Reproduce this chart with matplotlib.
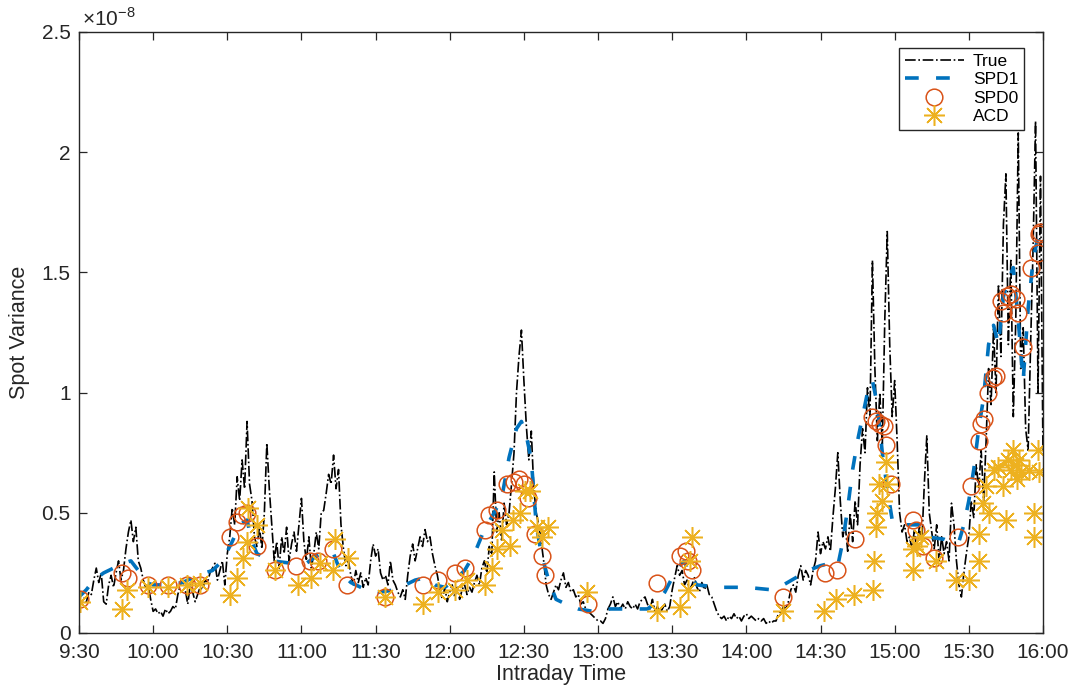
import numpy as np
import matplotlib
matplotlib.use("Agg")
import matplotlib.pyplot as plt

# 時刻は 9:30 からの経過分、値の単位は 1e-8
true_vals = [
    0.14, 0.12, 0.15, 0.13, 0.17, 0.16, 0.22, 0.27, 0.21, 0.25,
    0.13, 0.12, 0.20, 0.24, 0.19, 0.25, 0.30, 0.22, 0.26, 0.35,
    0.42, 0.47, 0.38, 0.44, 0.30, 0.27, 0.22, 0.19, 0.20, 0.14,
    0.09, 0.10, 0.08, 0.09, 0.07, 0.10, 0.08, 0.09, 0.11, 0.10,
    0.16, 0.20, 0.22, 0.18, 0.12, 0.20, 0.17, 0.13, 0.16, 0.19,
    0.18, 0.22, 0.21, 0.25, 0.27, 0.29, 0.22, 0.26, 0.30, 0.20,
    0.33, 0.40, 0.52, 0.45, 0.65, 0.55, 0.72, 0.60, 0.88, 0.62,
    0.55, 0.40, 0.36, 0.44, 0.35, 0.50, 0.79, 0.60, 0.45, 0.30,
    0.38, 0.27, 0.40, 0.33, 0.44, 0.30, 0.37, 0.42, 0.34, 0.45,
    0.56, 0.38, 0.30, 0.40, 0.27, 0.33, 0.42, 0.35, 0.50, 0.51,
    0.58, 0.66, 0.62, 0.74, 0.60, 0.68, 0.45, 0.35, 0.28, 0.30,
    0.24, 0.20, 0.26, 0.21, 0.25, 0.19, 0.23, 0.20, 0.30, 0.37,
    0.32, 0.35, 0.25, 0.22, 0.24, 0.20, 0.30, 0.22, 0.20, 0.17,
    0.15, 0.18, 0.14, 0.24, 0.32, 0.37, 0.30, 0.35, 0.40, 0.36,
    0.43, 0.38, 0.40, 0.33, 0.28, 0.24, 0.18, 0.14, 0.19, 0.13,
    0.17, 0.20, 0.15, 0.19, 0.14, 0.18, 0.20, 0.16, 0.19, 0.17,
    0.21, 0.24, 0.20, 0.27, 0.30, 0.25, 0.36, 0.32, 0.67, 0.42,
    0.50, 0.38, 0.54, 0.45, 0.50, 0.62, 0.75, 1.00, 1.15, 1.26,
    1.05, 0.86, 0.72, 0.84, 0.60, 0.50, 0.45, 0.38, 0.30, 0.20,
    0.16, 0.14, 0.17, 0.20, 0.18, 0.22, 0.25, 0.19, 0.21, 0.17,
    0.18, 0.15, 0.16, 0.12, 0.13, 0.10, 0.09, 0.08, 0.07, 0.06,
    0.05, 0.05, 0.04, 0.06, 0.10, 0.12, 0.15, 0.11, 0.13, 0.10,
    0.12, 0.10, 0.13, 0.11, 0.10, 0.12, 0.10, 0.13, 0.14, 0.15,
    0.12, 0.10, 0.14, 0.09, 0.11, 0.08, 0.10, 0.12, 0.09, 0.11,
    0.18, 0.23, 0.28, 0.24, 0.26, 0.20, 0.22, 0.18, 0.20, 0.23,
    0.19, 0.17, 0.21, 0.18, 0.20, 0.16, 0.15, 0.12, 0.09, 0.07,
    0.06, 0.07, 0.05, 0.07, 0.06, 0.08, 0.06, 0.07, 0.05, 0.07,
    0.08, 0.06, 0.07, 0.06, 0.05, 0.06, 0.05, 0.06, 0.04, 0.05,
    0.04, 0.05, 0.05, 0.08, 0.09, 0.11, 0.10, 0.13, 0.18, 0.20,
    0.17, 0.24, 0.28, 0.22, 0.26, 0.24, 0.20, 0.26, 0.30, 0.42,
    0.33, 0.38, 0.35, 0.40, 0.34, 0.48, 0.60, 0.75, 0.55, 0.40,
    0.45, 0.34, 0.50, 0.38, 0.55, 0.45, 0.70, 0.85, 0.75, 1.02,
    0.90, 1.55, 1.10, 0.80, 1.00, 0.78, 1.30, 1.67, 1.20, 0.90,
    1.05, 0.80, 0.50, 0.42, 0.45, 0.38, 0.40, 0.35, 0.43, 0.33,
    0.45, 0.38, 0.62, 0.82, 0.50, 0.42, 0.35, 0.45, 0.30, 0.40,
    0.33, 0.38, 0.30, 0.54, 0.45, 0.30, 0.20, 0.15, 0.25, 0.33,
    0.40, 0.55, 0.48, 0.70, 0.60, 0.76, 0.55, 0.80, 1.10, 0.95,
    1.27, 1.00, 1.45, 1.15, 1.70, 1.91, 1.20, 1.55, 0.90, 1.30,
    2.08, 1.10, 1.27, 0.85, 0.76, 1.20, 1.60, 2.13, 1.00, 1.90,
    0.75,
]
true_t = np.arange(len(true_vals))

spd1_t = [0, 3, 6, 10, 14, 18, 21, 24, 27, 30, 36, 42, 48, 54, 58, 62, 65, 68, 70,
          72, 78, 86, 92, 96, 100, 103, 106, 110, 116, 122, 128, 132, 136, 140, 144,
          148, 152, 156, 160, 164, 168, 171, 174, 177, 179, 181, 183, 185, 187, 190,
          193, 197, 202, 208, 215, 222, 230, 234, 237, 240, 243, 245, 247, 250, 260,
          270, 280, 285, 290, 295, 300, 304, 307, 309, 311, 313, 315, 317, 319, 321,
          323, 325, 327, 329, 332, 340, 343, 350, 354, 356, 358, 360, 362, 364, 366,
          368, 370, 372, 374, 376, 378, 380, 382, 384, 386, 388, 390]
spd1_vals = [0.15, 0.18, 0.22, 0.25, 0.27, 0.29, 0.30, 0.26, 0.21, 0.20, 0.20, 0.21,
             0.24, 0.26, 0.30, 0.38, 0.45, 0.47, 0.38, 0.33, 0.30, 0.29, 0.29, 0.32,
             0.34, 0.33, 0.25, 0.21, 0.18, 0.17, 0.18, 0.20, 0.22, 0.23, 0.20, 0.19,
             0.22, 0.26, 0.33, 0.43, 0.50, 0.56, 0.73, 0.85, 0.88, 0.82, 0.72, 0.45,
             0.33, 0.22, 0.14, 0.12, 0.10, 0.09, 0.10, 0.10, 0.10, 0.13, 0.17, 0.23,
             0.28, 0.30, 0.24, 0.20, 0.19, 0.19, 0.18, 0.20, 0.23, 0.26, 0.28, 0.29,
             0.28, 0.38, 0.52, 0.68, 0.80, 0.90, 1.00, 1.05, 0.95, 0.75, 0.60, 0.47,
             0.45, 0.45, 0.40, 0.39, 0.37, 0.38, 0.45, 0.55, 0.68, 0.85, 0.98, 1.20,
             1.28, 1.20, 1.40, 1.47, 1.52, 1.30, 1.05, 1.35, 1.55, 1.65, 1.68]

spd0_t = [0.4, 17.3, 19.9, 28, 36, 43.6, 49, 61, 63.8, 66, 68, 72, 79.3, 88, 93.5,
          96.7, 102.8, 108.4, 123.8, 139, 145.3, 152, 156, 164.3, 166, 169, 173,
          176, 178, 180, 181.6, 184.5, 187.3, 188.5, 206, 234, 243, 245.5, 246.5,
          248, 285, 302, 306.6, 314, 321, 322.5, 324, 325.5, 326.5, 328.5, 337.4,
          338.6, 341.4, 346, 355.6, 361, 364, 365, 366, 367.7, 369.7, 371, 373,
          374, 375.5, 377, 379, 380, 382, 385, 388, 388.5, 389]
spd0_vals = [0.14, 0.25, 0.23, 0.20, 0.20, 0.20, 0.20, 0.40, 0.46, 0.49, 0.50, 0.36,
             0.26, 0.28, 0.30, 0.30, 0.35, 0.20, 0.15, 0.20, 0.22, 0.25, 0.27, 0.43,
             0.49, 0.51, 0.62, 0.63, 0.64, 0.62, 0.56, 0.41, 0.32, 0.24, 0.12, 0.21,
             0.32, 0.34, 0.30, 0.26, 0.15, 0.25, 0.26, 0.39, 0.90, 0.88, 0.87, 0.86,
             0.78, 0.62, 0.47, 0.43, 0.36, 0.31, 0.40, 0.61, 0.80, 0.87, 0.89, 1.00,
             1.06, 1.07, 1.38, 1.33, 1.40, 1.41, 1.39, 1.33, 1.19, 1.52, 1.58, 1.66,
             1.67]

acd_t = [0.4, 17.3, 19.3, 28, 36, 43.6, 49, 61, 63.8, 66.5, 67.8, 68.5, 72, 79.3,
         88.7, 94, 97.5, 102.8, 103.6, 108.9, 123.8, 139, 145.3, 152, 157, 164.3,
         167, 169, 171, 174.4, 175.6, 178.4, 180.4, 182.4, 185.3, 187.3, 189.8,
         205.5, 233.8, 243, 246.4, 247.2, 248, 285, 301.4, 306.2, 313.5, 321.2,
         321.6, 322.4, 323, 325, 323.6, 327, 326.5, 337.4, 337.4, 339, 340.6, 346.7,
         354.8, 360, 364, 364, 365.7, 367, 368, 370, 372, 374, 375, 376, 377, 378,
         379, 379.5, 380.5, 381, 384.3, 388, 388.5, 386.4, 386.4]
acd_vals = [0.13, 0.10, 0.18, 0.19, 0.19, 0.20, 0.21, 0.16, 0.23, 0.31, 0.38, 0.52,
            0.45, 0.26, 0.20, 0.23, 0.29, 0.26, 0.39, 0.31, 0.15, 0.12, 0.17, 0.18,
            0.22, 0.20, 0.27, 0.35, 0.43, 0.36, 0.47, 0.50, 0.59, 0.59, 0.44, 0.40,
            0.44, 0.17, 0.09, 0.11, 0.18, 0.30, 0.40, 0.09, 0.09, 0.14, 0.16, 0.18,
            0.30, 0.44, 0.50, 0.55, 0.62, 0.62, 0.71, 0.26, 0.35, 0.36, 0.40, 0.30,
            0.22, 0.22, 0.30, 0.41, 0.54, 0.61, 0.50, 0.68, 0.69, 0.61, 0.47, 0.72,
            0.68, 0.76, 0.70, 0.64, 0.72, 0.67, 0.68, 0.76, 0.67, 0.50, 0.40]

x_ticks = [0, 30, 60, 90, 120, 150, 180, 210, 240, 270, 300, 330, 360, 390]
x_labels = ["9:30", "10:00", "10:30", "11:00", "11:30", "12:00", "12:30",
            "13:00", "13:30", "14:00", "14:30", "15:00", "15:30", "16:00"]
y_ticks = [0, 0.5, 1, 1.5, 2, 2.5]
y_labels = ["0", "0.5", "1", "1.5", "2", "2.5"]

plt.rcParams["font.family"] = ["Liberation Sans", "DejaVu Sans"]
plt.rcParams["mathtext.fontset"] = "custom"
plt.rcParams["mathtext.rm"] = "Liberation Sans"

fig = plt.figure(figsize=(10.76, 6.94), dpi=100)
ax = fig.add_axes([0.0734, 0.0879, 0.8959, 0.866])

ax.plot(true_t, true_vals, color="black", linestyle="-.", linewidth=1.2, label="True")
ax.plot(spd1_t, spd1_vals, color="#0072BD", linestyle=(0, (3.8, 4.8)), linewidth=2.6,
        label="SPD1")
ax.plot(spd0_t, spd0_vals, linestyle="none", marker="o", markersize=12,
        markerfacecolor="none", markeredgecolor="#D95319", markeredgewidth=1.1,
        label="SPD0")
ax.plot(acd_t, acd_vals, linestyle="none", marker=(8, 2, 0), markersize=15,
        markeredgecolor="#EDB120", color="#EDB120", markeredgewidth=1.1, label="ACD")

ax.set_xlim(0, 390)
ax.set_ylim(0, 2.5)
ax.set_xticks(x_ticks)
ax.set_xticklabels(x_labels)
ax.set_yticks(y_ticks)
ax.set_yticklabels(y_labels)
ax.tick_params(direction="in", length=6, width=0.9, top=True, right=True,
               labelsize=15, colors="#262626")
ax.tick_params(axis="x", pad=7)
ax.tick_params(axis="y", pad=6)
for sp in ax.spines.values():
    sp.set_color("#262626")
    sp.set_linewidth(1.0)

ax.set_xlabel("Intraday Time", fontsize=15.5, color="#262626", labelpad=2)
ax.set_ylabel("Spot Variance", fontsize=15.5, color="#262626", labelpad=8)
ax.text(0.003, 1.004, r"$\times10^{-8}$", transform=ax.transAxes, fontsize=15,
        color="#262626", va="bottom", ha="left")

leg = ax.legend(loc="upper right", bbox_to_anchor=(0.980, 0.973), borderaxespad=0,
                fontsize=12.5, fancybox=False, framealpha=1, edgecolor="#262626",
                handlelength=3.4, handletextpad=0.55, labelspacing=0.2,
                borderpad=0.3, numpoints=1)
leg.get_frame().set_linewidth(1.0)

fig.savefig("out.png", dpi=100)
